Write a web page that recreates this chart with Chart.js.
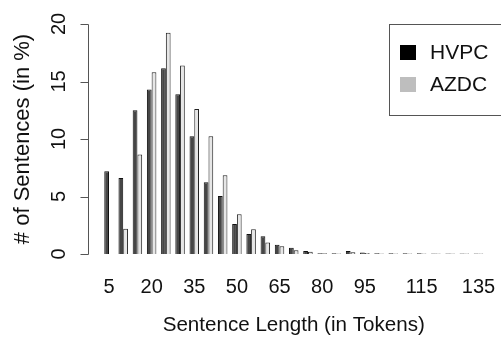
<!DOCTYPE html>
<html>
<head>
<meta charset="utf-8">
<script src="https://cdn.jsdelivr.net/npm/chart.js@4/dist/chart.umd.min.js"></script>
<style>
    html, body { margin: 0; padding: 0; background: #fff; }
    #wrap { width: 501px; height: 340px; }
</style>
</head>
<body>
<div id="wrap"><canvas id="lengthChart" width="501" height="340"></canvas></div>
<script>
const lengths = [5, 10, 15, 20, 25, 30, 35, 40, 45, 50, 55, 60, 65, 70, 75, 80, 85, 90, 95, 100, 105, 110, 115, 120, 125, 130, 135];
const shownLabels = [5, 20, 35, 50, 65, 80, 95, 115, 135];
const hvpc = [7.2, 6.6, 12.5, 14.3, 16.15, 13.9, 10.25, 6.25, 5.05, 2.6, 1.75, 1.55, 0.8, 0.55, 0.26, 0.06, 0.06, 0.26, 0.12, 0.06, 0.06, 0.06, 0.06, 0.05, 0.05, 0.05, 0.05];
const azdc = [0, 2.2, 8.65, 15.8, 19.25, 16.4, 12.6, 10.25, 6.85, 3.45, 2.15, 1.0, 0.68, 0.32, 0.2, 0.06, 0.05, 0.15, 0.08, 0.05, 0.05, 0.05, 0.05, 0.05, 0.05, 0.05, 0.05];
const yTicks = [0, 5, 10, 15, 20];

const font = '"Liberation Sans", Arial, sans-serif';

// R style detached y axis + boxed legend
const rStyle = {
    id: "rStyle",
    afterDraw(chart) {
        const ctx = chart.ctx;
        const y = chart.scales.y;
        const axisX = 88.5;
        ctx.save();
        ctx.strokeStyle = "#555";
        ctx.lineWidth = 1;
        ctx.beginPath();
        ctx.moveTo(axisX, Math.round(y.getPixelForValue(0)) + 0.5);
        ctx.lineTo(axisX, Math.round(y.getPixelForValue(20)) + 0.5);
        yTicks.forEach(v => {
            const py = Math.round(y.getPixelForValue(v)) + 0.5;
            ctx.moveTo(axisX, py);
            ctx.lineTo(axisX - 8, py);
        });
        ctx.stroke();

        // legend
        ctx.strokeStyle = "#555";
        ctx.strokeRect(389.5, 24.5, 130, 91);
        ctx.font = "21px " + font;
        ctx.textBaseline = "middle";
        ctx.textAlign = "left";
        chart.data.datasets.forEach((ds, i) => {
            const top = 45 + i * 32;
            ctx.fillStyle = ds.legendColor;
            ctx.fillRect(400, top, 16, 15);
            ctx.fillStyle = "#111";
            ctx.fillText(ds.label, 430, top + 8);
        });
        ctx.restore();
    }
};

document.addEventListener("DOMContentLoaded", () => {
    const ctx = document.getElementById("lengthChart").getContext("2d");

    new Chart(ctx, {
        type: "bar",
        data: {
            labels: lengths,
            datasets: [
                {
                    label: "HVPC",
                    data: hvpc,
                    backgroundColor: "#464646",
                    borderColor: "#111",
                    borderWidth: 1,
                    legendColor: "#000",
                    categoryPercentage: 2 / 3,
                    barPercentage: 1
                },
                {
                    label: "AZDC",
                    data: azdc,
                    backgroundColor: "#e6e6e6",
                    borderColor: "#222",
                    borderWidth: 1,
                    legendColor: "#bebebe",
                    categoryPercentage: 2 / 3,
                    barPercentage: 1
                }
            ]
        },
        options: {
            responsive: false,
            animation: false,
            layout: { padding: { left: 0, top: 24, right: 15.4, bottom: 0 } },
            plugins: {
                legend: { display: false },
                tooltip: { enabled: false }
            },
            scales: {
                x: {
                    offset: true,
                    grid: { display: false, drawTicks: false },
                    border: { display: false },
                    afterFit: scale => {
                        scale.height = 86;
                        scale.paddingLeft = 0;
                        scale.paddingRight = 0;
                    },
                    ticks: {
                        autoSkip: false,
                        maxRotation: 0,
                        padding: 21,
                        color: "#111",
                        font: { family: font, size: 20 },
                        callback: function (value) {
                            const v = lengths[value];
                            return shownLabels.includes(v) ? String(v) : "";
                        }
                    },
                    title: {
                        display: true,
                        text: "Sentence Length (in Tokens)",
                        color: "#111",
                        font: { family: font, size: 20.6, lineHeight: 1 },
                        padding: { top: 0, bottom: 4 }
                    }
                },
                y: {
                    min: 0,
                    max: 20,
                    grid: { display: false, drawTicks: false },
                    border: { display: false },
                    afterFit: scale => {
                        scale.width = 101.9;
                        scale.paddingTop = 0;
                        scale.paddingBottom = 0;
                    },
                    ticks: {
                        stepSize: 5,
                        minRotation: 90,
                        maxRotation: 90,
                        crossAlign: "center",
                        padding: 31,
                        color: "#111",
                        font: { family: font, size: 20 }
                    },
                    title: {
                        display: true,
                        text: "# of Sentences (in %)",
                        color: "#111",
                        font: { family: font, size: 22, lineHeight: 1 },
                        padding: { top: 12, bottom: 0 }
                    }
                }
            }
        },
        plugins: [rStyle]
    });
});
</script>
</body>
</html>
